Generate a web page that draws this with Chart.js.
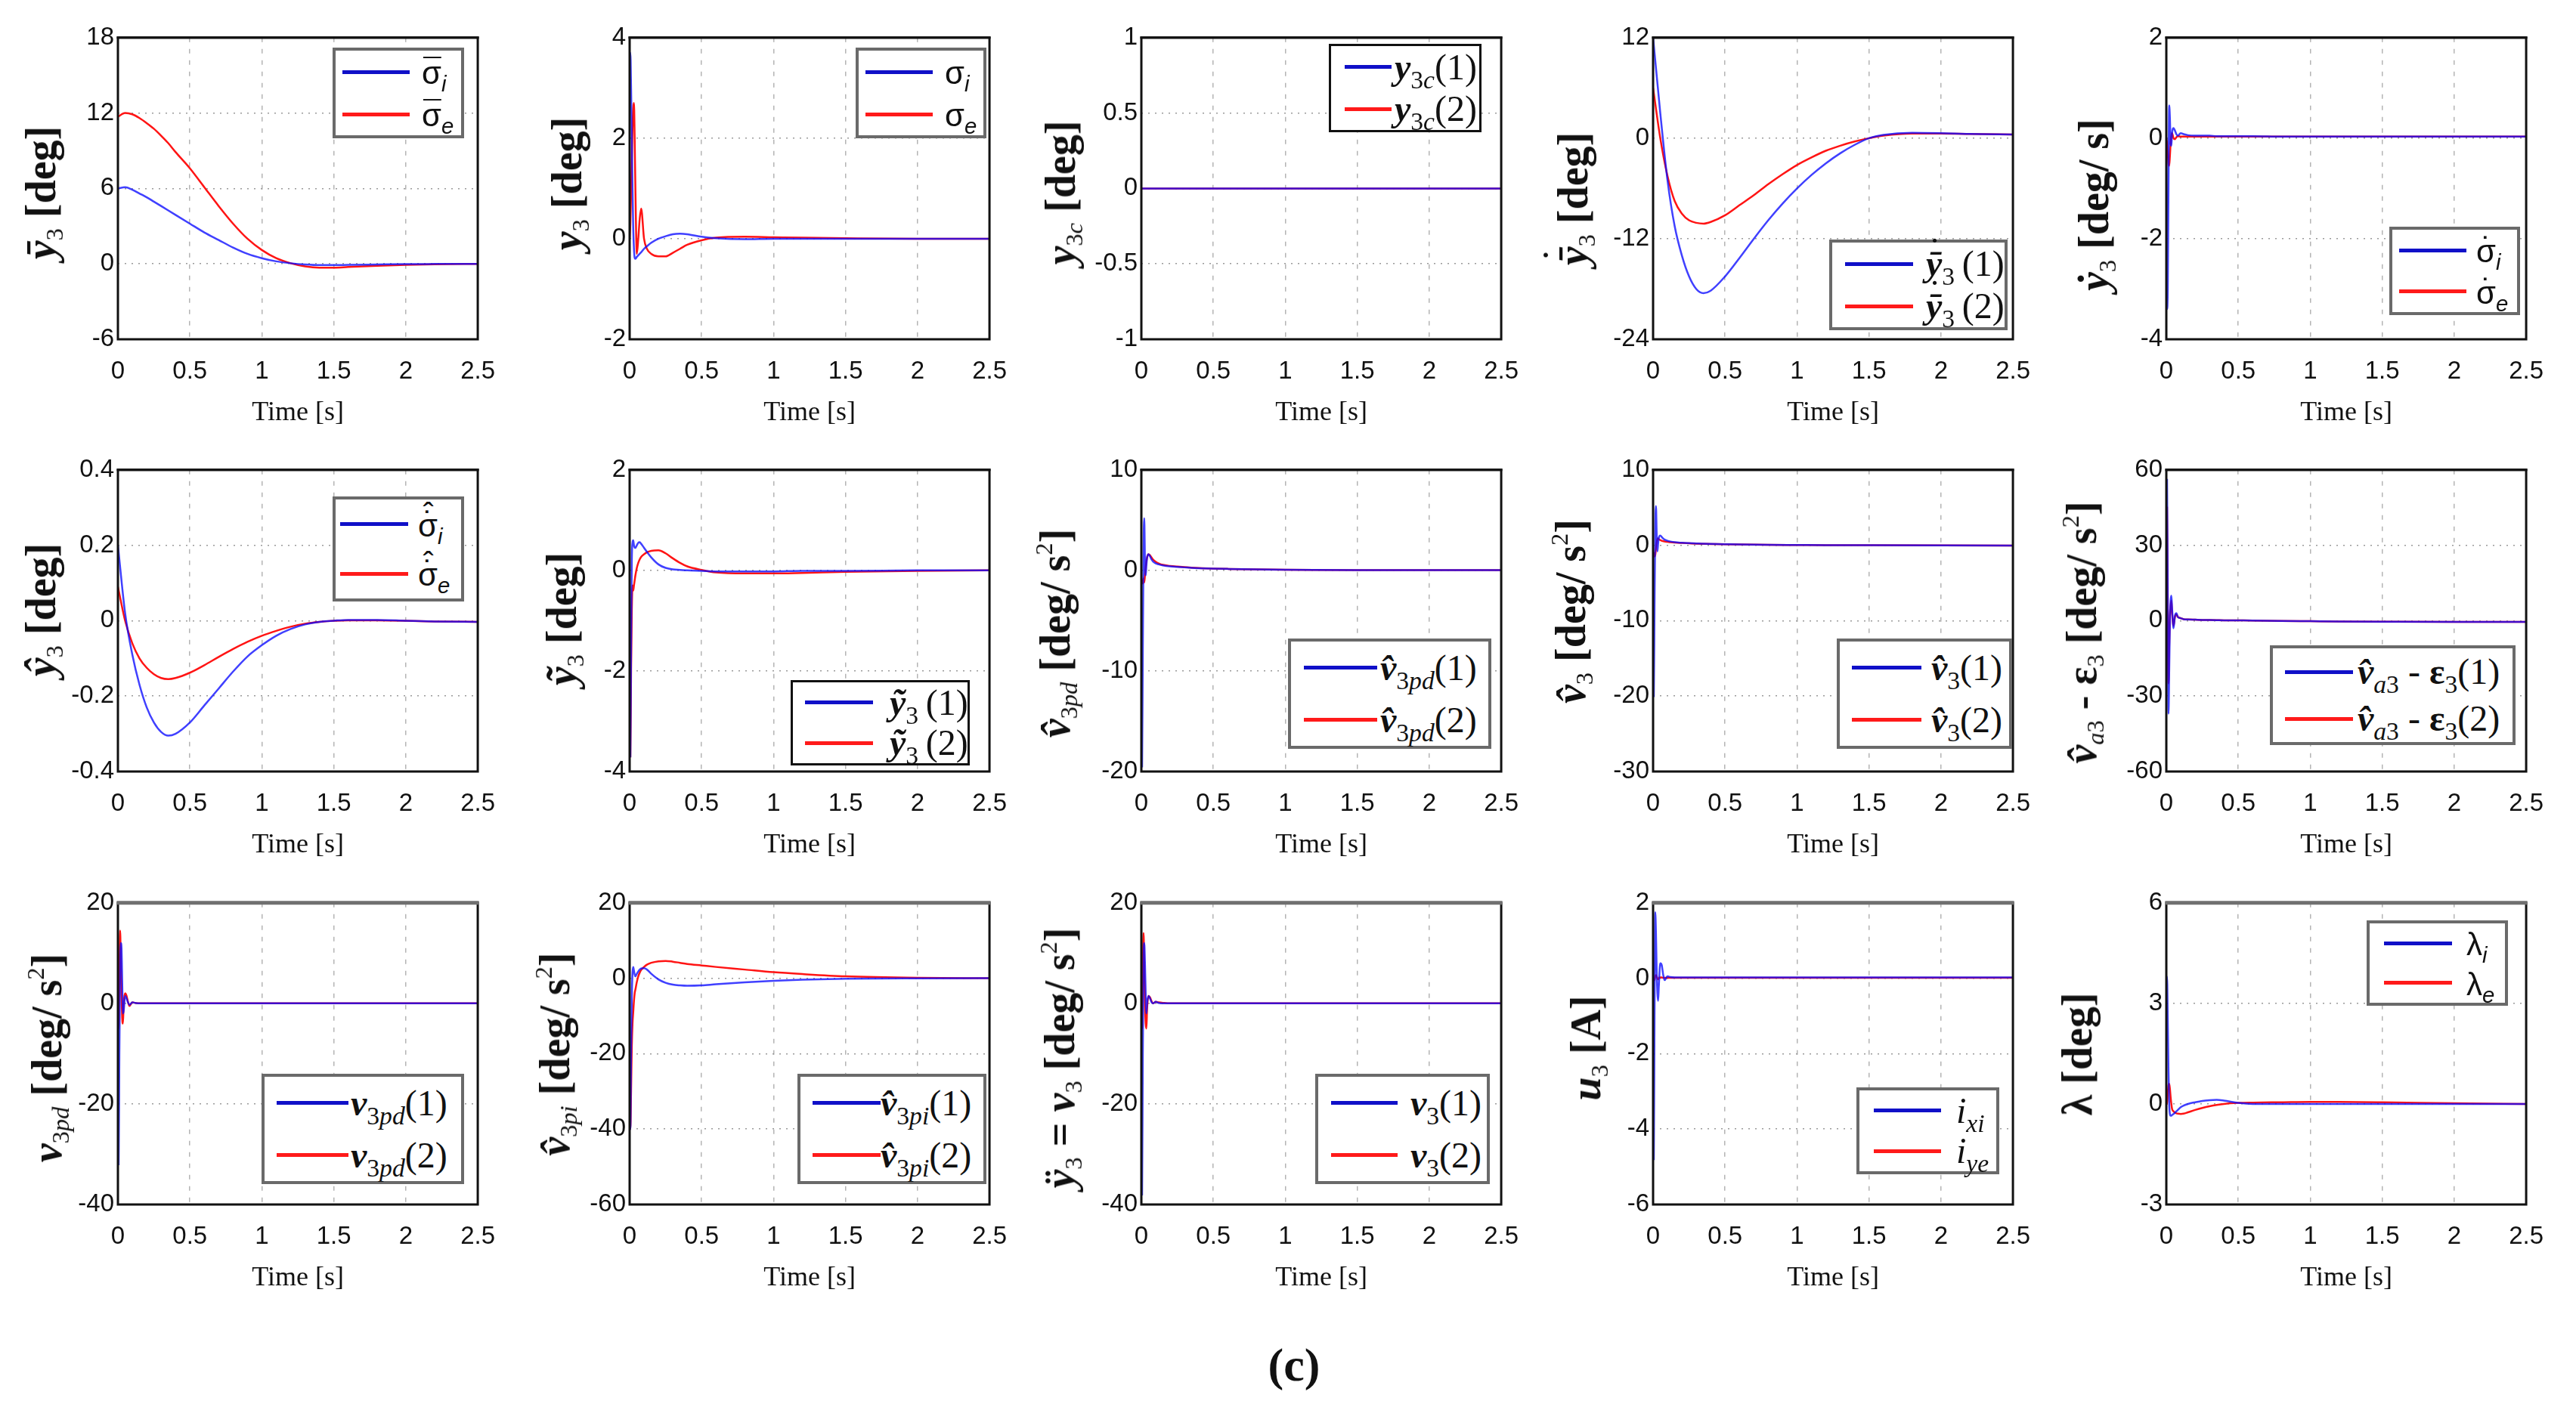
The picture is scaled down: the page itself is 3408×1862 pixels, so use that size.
<!DOCTYPE html>
<html>
<head>
<meta charset="utf-8">
<title>Simulation results (c)</title>
<script src="https://cdn.jsdelivr.net/npm/chart.js@4.4.1/dist/chart.umd.min.js"></script>
<style>
	body { margin: 0; background: #fff; width: 3408px; height: 1862px; position: relative; overflow: hidden; font-family: "Liberation Serif", "DejaVu Serif", serif; color: #111; }
	.panel { position: absolute; }
	.ylab { position: absolute; transform: translate(-50%, -50%) rotate(-90deg); white-space: nowrap; font: bold 56px "Liberation Serif", "DejaVu Serif", serif; line-height: 1; }
	.ylab sub { font-size: 0.58em; font-weight: normal; vertical-align: -0.3em; line-height: 0; }
	.ylab sup { font-size: 0.58em; font-weight: normal; vertical-align: 0.7em; line-height: 0; }
	.legend { position: absolute; background: #fff; box-sizing: border-box; display: flex; flex-direction: column; justify-content: space-around; }
	.legend.g { border: 4px solid #6a6a6a; }
	.legend.k { border: 3px solid #111; }
	.legend-item { display: flex; align-items: center; font: 48px "Liberation Serif", "DejaVu Serif", serif; white-space: nowrap; line-height: 1; }
	.legend-item sub { font-size: 0.7em; vertical-align: -0.35em; line-height: 0; }
	.legend-item .sans { font-family: "Liberation Sans", Arial, sans-serif; font-size: 42px; }
	.swatch { height: 5px; flex: none; }
	.ac { position: relative; display: inline-block; line-height: 1; }
	.mk { position: absolute; left: 0.04em; right: 0; text-align: center; font-style: normal; font-weight: normal; line-height: 1; }
	#caption { position: absolute; left: 1712px; top: 1806px; transform: translate(-50%, -50%); font: bold 62px "Liberation Serif", serif; }
</style>
</head>
<body>
<div id="caption">(c)</div>
<script>
	// time grids [s]
	const tSlow = [0, 0.05, 0.1, 0.15, 0.2, 0.25, 0.3, 0.35, 0.4, 0.5, 0.6, 0.7, 0.8, 0.9, 1.0, 1.1, 1.2, 1.3, 1.4, 1.5, 1.6, 1.8, 2.0, 2.2, 2.5];
	const tFast = [0, 0.005, 0.01, 0.015, 0.02, 0.025, 0.03, 0.035, 0.04, 0.05, 0.06, 0.07, 0.08, 0.1, 0.12, 0.15, 0.2, 0.25, 0.3, 0.35, 0.4, 0.5, 0.6, 0.8, 1.0, 1.2, 1.5, 2.0, 2.5];
	const tFlat = [0, 0.5, 1, 1.5, 2, 2.5];

	// row 1
	const sigmaBarI = [6.0, 6.1, 5.9, 5.6, 5.3, 4.95, 4.6, 4.25, 3.9, 3.2, 2.5, 1.9, 1.3, 0.8, 0.45, 0.2, 0.05, -0.05, -0.1, -0.1, -0.08, -0.05, -0.02, -0.01, 0];
	const sigmaBarE = [11.7, 12.0, 11.9, 11.6, 11.2, 10.75, 10.2, 9.6, 8.9, 7.6, 6.1, 4.6, 3.2, 2.0, 1.1, 0.45, 0.05, -0.2, -0.3, -0.3, -0.25, -0.15, -0.08, -0.03, 0];
	const sigmaI = [3.7, 3.7, 3.0, 2.0, 1.0, 0.2, -0.2, -0.38, -0.4, -0.36, -0.33, -0.3, -0.27, -0.2, -0.15, -0.08, 0.0, 0.05, 0.09, 0.1, 0.09, 0.04, 0.01, -0.01, 0, 0, 0, 0, 0];
	const sigmaE = [0, 0.3, 0.9, 1.6, 2.2, 2.6, 2.7, 2.0, 1.0, -0.3, 0.0, 0.4, 0.6, 0.0, -0.2, -0.3, -0.35, -0.35, -0.28, -0.2, -0.12, -0.03, 0.02, 0.04, 0.03, 0.02, 0.01, 0, 0];
	const y3c1 = [0, 0, 0, 0, 0, 0];
	const y3c2 = [0, 0, 0, 0, 0, 0];
	const yBarDot1 = [12, 3, -5, -10.5, -14, -16.5, -18, -18.5, -18.2, -16.5, -14.3, -12, -9.8, -7.8, -6.0, -4.4, -3.0, -1.8, -0.8, 0, 0.4, 0.65, 0.6, 0.5, 0.45];
	const yBarDot2 = [6, 0, -4.5, -7.5, -9.0, -9.8, -10.1, -10.2, -10.0, -9.2, -8.0, -6.8, -5.5, -4.3, -3.2, -2.3, -1.5, -0.9, -0.4, 0, 0.3, 0.55, 0.55, 0.5, 0.45];
	const sigmaDotI = [0, -3.4, -3.0, -1.0, 0.65, 0.4, -0.1, -0.15, 0.1, 0.2, 0.15, 0.08, 0.05, 0.1, 0.08, 0.06, 0.05, 0.05, 0.05, 0.04, 0.04, 0.04, 0.04, 0.03, 0.03, 0.03, 0.03, 0.03, 0.03];
	const sigmaDotE = [0, -0.1, -0.3, -0.5, -0.55, -0.35, -0.1, 0.05, 0.1, 0.0, -0.02, 0.02, 0.04, 0.03, 0.03, 0.03, 0.03, 0.03, 0.03, 0.03, 0.03, 0.03, 0.03, 0.03, 0.03, 0.03, 0.03, 0.03, 0.03];

	// row 2
	const sigmaHatI = [0.2, 0.02, -0.09, -0.17, -0.23, -0.27, -0.295, -0.305, -0.3, -0.27, -0.225, -0.18, -0.135, -0.095, -0.065, -0.04, -0.022, -0.01, -0.003, 0.0, 0.002, 0.002, 0.0, -0.002, -0.003];
	const sigmaHatE = [0.09, 0.0, -0.06, -0.1, -0.125, -0.142, -0.152, -0.155, -0.152, -0.138, -0.118, -0.096, -0.075, -0.056, -0.04, -0.027, -0.016, -0.008, -0.003, 0.0, 0.001, 0.001, 0.0, -0.002, -0.003];
	const yTilde1 = [-3.7, -3.7, -1.5, 0.2, 0.55, 0.6, 0.5, 0.45, 0.45, 0.5, 0.55, 0.56, 0.53, 0.45, 0.37, 0.26, 0.12, 0.05, 0.02, 0.01, 0.0, -0.01, -0.02, -0.02, -0.02, -0.01, -0.01, 0, 0];
	const yTilde2 = [-3.7, -3.7, -2.0, -0.8, -0.3, -0.4, -0.3, -0.2, -0.1, 0.05, 0.15, 0.22, 0.27, 0.32, 0.36, 0.39, 0.4, 0.34, 0.24, 0.15, 0.08, 0.01, -0.04, -0.06, -0.06, -0.05, -0.03, -0.01, 0];
	const v3pdHat1 = [-19.5, -19.5, -8, 2, 5.2, 1.0, -0.5, 0.5, 1.3, 1.6, 1.4, 1.1, 0.9, 0.7, 0.6, 0.5, 0.4, 0.35, 0.3, 0.25, 0.22, 0.18, 0.15, 0.1, 0.07, 0.05, 0.03, 0.02, 0.02];
	const v3pdHat2 = [-1, -1, -1.3, -0.8, -1.2, -0.5, 0.3, 0.9, 1.3, 1.6, 1.5, 1.3, 1.1, 0.85, 0.7, 0.55, 0.45, 0.38, 0.32, 0.27, 0.23, 0.18, 0.15, 0.1, 0.07, 0.05, 0.03, 0.02, 0.02];
	const v3Hat1 = [-20, -20, -8, 2, 5.2, 1.5, -0.8, 0.2, 1.0, 1.3, 1.1, 0.9, 0.75, 0.6, 0.5, 0.4, 0.33, 0.28, 0.24, 0.2, 0.18, 0.14, 0.1, 0.06, 0.04, 0.02, 0, -0.02, -0.03];
	const v3Hat2 = [-1, -1, -1.5, -1.3, -0.5, 0.3, 0.8, 0.9, 0.8, 0.7, 0.6, 0.55, 0.5, 0.45, 0.4, 0.35, 0.3, 0.26, 0.22, 0.19, 0.17, 0.13, 0.1, 0.06, 0.04, 0.02, 0, -0.02, -0.03];
	const va3Eps1 = [56, 56, 10, -37, -20, 0, 8, 10, 5, -3, 2, 3, 1.5, 1, 0.6, 0.5, 0.4, 0.3, 0.25, 0.2, 0.15, 0.1, 0.05, -0.1, -0.2, -0.3, -0.4, -0.5, -0.5];
	const va3Eps2 = [45, 45, 5, -25, -10, 2, 6, 8, 3, -2, 1.5, 2.5, 1.5, 1, 0.6, 0.5, 0.4, 0.3, 0.25, 0.2, 0.15, 0.1, 0.05, -0.1, -0.2, -0.3, -0.4, -0.5, -0.5];

	// row 3
	const v3pd1 = [-32, -32, -10, 6, 12, 11, 4, -2, -1.5, 1.5, 1.0, 0.2, -0.3, 0.2, 0.1, 0, 0, 0, 0, 0, 0, 0, 0, 0, 0, 0, 0, 0, 0];
	const v3pd2 = [-5, -5, 5, 14.5, 9, 2, -3, -4, 0, 2, 1.5, 0.3, -0.5, 0.2, 0.1, 0, 0, 0, 0, 0, 0, 0, 0, 0, 0, 0, 0, 0, 0];
	const v3piHat1 = [-40, -40, -20, -5, 1.5, 3, 2, 1, 0.5, 1.2, 1.8, 2.3, 2.6, 2.7, 2.3, 1.2, -0.3, -1.2, -1.7, -1.9, -2.0, -1.9, -1.6, -1.1, -0.7, -0.4, -0.15, -0.03, 0];
	const v3piHat2 = [-40, -40, -30, -18, -12, -9, -6, -4, -3, -1, 0.5, 1.5, 2.2, 3.0, 3.6, 4.1, 4.5, 4.6, 4.4, 4.1, 3.8, 3.4, 3.0, 2.3, 1.6, 1.1, 0.5, 0.1, 0];
	const v3n1 = [-38, -38, -10, 8, 12, 8, 2, -2, 0, 1.5, 1, 0.3, 0, 0.3, 0.1, 0, 0, 0, 0, 0, 0, 0, 0, 0, 0, 0, 0, 0, 0];
	const v3n2 = [-5, -5, 6, 14, 8, 0, -4, -5, -1, 1.5, 1.2, 0.5, 0, 0.3, 0.2, 0.1, 0, 0, 0, 0, 0, 0, 0, 0, 0, 0, 0, 0, 0];
	const ixi = [-4.8, -4.8, -1, 1.75, 1.2, 0.2, -0.4, -0.6, -0.2, 0.4, 0.35, 0.1, -0.05, 0.05, 0.03, 0.02, 0.02, 0.02, 0.02, 0.02, 0.02, 0.02, 0.02, 0.02, 0.02, 0.02, 0.02, 0.02, 0.02];
	const iye = [0, 0, -0.05, 0.05, 0.08, 0.05, 0, -0.03, 0, 0.02, 0.02, 0.01, 0.01, 0.01, 0.01, 0.01, 0.01, 0.01, 0.01, 0.01, 0.01, 0.01, 0.01, 0.01, 0.01, 0.01, 0.01, 0.01, 0.01];
	const lambdaI = [3.8, 3.8, 2.5, 1.0, 0.0, -0.3, -0.35, -0.35, -0.33, -0.3, -0.26, -0.22, -0.18, -0.1, -0.05, 0.0, 0.05, 0.09, 0.11, 0.12, 0.1, 0.03, 0, 0, 0, 0, 0, 0, 0];
	const lambdaE = [0, 0, 0.3, 0.55, 0.6, 0.45, 0.2, 0.0, -0.15, -0.22, -0.26, -0.28, -0.29, -0.3, -0.29, -0.25, -0.18, -0.12, -0.07, -0.03, 0, 0.03, 0.04, 0.05, 0.06, 0.06, 0.05, 0.02, 0];

	// axes
	const xMin = 0, xMax = 2.5, xStep = 0.5;
	const yMins = [-6, -2, -1, -24, -4, -0.4, -4, -20, -30, -60, -40, -60, -40, -6, -3];
	const yMaxs = [18, 4, 1, 12, 2, 0.4, 2, 10, 10, 60, 20, 20, 20, 2, 6];
	const ySteps = [6, 2, 0.5, 12, 2, 0.2, 2, 10, 10, 30, 20, 20, 20, 2, 3];

	// letter with stacked accents; lift skips levels already taken by the base glyph
	function acc(base, marks, lift = 0) {
		const mk = marks.map((m, k) => `<span class="mk" style="top:${-0.1 - (k + lift) * 0.26}em">${m}</span>`).join("");
		return `<span class="ac">${base}${mk}</span>`;
	}
	const sans = html => `<span class="sans">${html}</span>`;

	const sBar = acc("σ", ["¯"]);
	const sDot = acc("σ", ["˙"]);
	const sDotHat = acc("σ", ["˙", "ˆ"]);
	const yBarDot = acc("<i>ȳ</i>", ["˙"], 1);

	const panels = [
		{ t: tSlow, s1: sigmaBarI, s2: sigmaBarE, ylab: `<i>ȳ</i><sub>3</sub> [deg]`, leg: [sans(`${sBar}<sub><i>i</i></sub>`), sans(`${sBar}<sub><i>e</i></sub>`)] },
		{ t: tFast, s1: sigmaI, s2: sigmaE, ylab: `<i>y</i><sub>3</sub> [deg]`, leg: [sans(`σ<sub><i>i</i></sub>`), sans(`σ<sub><i>e</i></sub>`)] },
		{ t: tFlat, s1: y3c1, s2: y3c2, ylab: `<i>y</i><sub>3<i>c</i></sub> [deg]`, leg: [`<b><i>y</i></b><sub>3<i>c</i></sub>(1)`, `<b><i>y</i></b><sub>3<i>c</i></sub>(2)`] },
		{ t: tSlow, s1: yBarDot1, s2: yBarDot2, ylab: `${yBarDot}<sub>3</sub> [deg]`, leg: [`<b>${yBarDot}</b><sub>3</sub>\u2009(1)`, `<b>${yBarDot}</b><sub>3</sub>\u2009(2)`] },
		{ t: tFast, s1: sigmaDotI, s2: sigmaDotE, ylab: `<i>ẏ</i><sub>3</sub> [deg/ s]`, leg: [sans(`${sDot}<sub><i>i</i></sub>`), sans(`${sDot}<sub><i>e</i></sub>`)] },
		{ t: tSlow, s1: sigmaHatI, s2: sigmaHatE, ylab: `<i>ŷ</i><sub>3</sub> [deg]`, leg: [sans(`${sDotHat}<sub><i>i</i></sub>`), sans(`${sDotHat}<sub><i>e</i></sub>`)] },
		{ t: tFast, s1: yTilde1, s2: yTilde2, ylab: `<i>ỹ</i><sub>3</sub> [deg]`, leg: [`<b><i>ỹ</i></b><sub>3</sub>\u2009(1)`, `<b><i>ỹ</i></b><sub>3</sub>\u2009(2)`] },
		{ t: tFast, s1: v3pdHat1, s2: v3pdHat2, ylab: `<i>v\u0302</i><sub>3<i>pd</i></sub> [deg/ s<sup>2</sup>]`, leg: [`<b><i>v\u0302</i></b><sub>3<i>pd</i></sub>(1)`, `<b><i>v\u0302</i></b><sub>3<i>pd</i></sub>(2)`] },
		{ t: tFast, s1: v3Hat1, s2: v3Hat2, ylab: `<i>v\u0302</i><sub>3</sub> [deg/ s<sup>2</sup>]`, leg: [`<b><i>v\u0302</i></b><sub>3</sub>(1)`, `<b><i>v\u0302</i></b><sub>3</sub>(2)`] },
		{ t: tFast, s1: va3Eps1, s2: va3Eps2, ylab: `<i>v\u0302</i><sub><i>a</i>3</sub> - ε<sub>3</sub> [deg/ s<sup>2</sup>]`, leg: [`<b><i>v\u0302</i></b><sub><i>a</i>3</sub> - <b>ε</b><sub>3</sub>(1)`, `<b><i>v\u0302</i></b><sub><i>a</i>3</sub> - <b>ε</b><sub>3</sub>(2)`] },
		{ t: tFast, s1: v3pd1, s2: v3pd2, ylab: `<i>v</i><sub>3<i>pd</i></sub> [deg/ s<sup>2</sup>]`, leg: [`<b><i>v</i></b><sub>3<i>pd</i></sub>(1)`, `<b><i>v</i></b><sub>3<i>pd</i></sub>(2)`] },
		{ t: tFast, s1: v3piHat1, s2: v3piHat2, ylab: `<i>v\u0302</i><sub>3<i>pi</i></sub> [deg/ s<sup>2</sup>]`, leg: [`<b><i>v\u0302</i></b><sub>3<i>pi</i></sub>(1)`, `<b><i>v\u0302</i></b><sub>3<i>pi</i></sub>(2)`] },
		{ t: tFast, s1: v3n1, s2: v3n2, ylab: `<i>ÿ</i><sub>3</sub> = <i>v</i><sub>3</sub> [deg/ s<sup>2</sup>]`, leg: [`<b><i>v</i></b><sub>3</sub>(1)`, `<b><i>v</i></b><sub>3</sub>(2)`] },
		{ t: tFast, s1: ixi, s2: iye, ylab: `<i>u</i><sub>3</sub> [A]`, leg: [`<i>i</i><sub><i>xi</i></sub>`, `<i>i</i><sub><i>ye</i></sub>`] },
		{ t: tFast, s1: lambdaI, s2: lambdaE, ylab: `λ [deg]`, leg: [sans(`λ<sub><i>i</i></sub>`), sans(`λ<sub><i>e</i></sub>`)] }
	];

	// layout (page pixels)
	const plotLefts = [156, 833, 1510, 2187, 2866];
	const plotTops = [49, 621, 1194];
	const plotW = 482, plotH = 400;
	const axisW = 110, axisH = 119, padTop = 24, padRight = 40;
	const yLabelPos = [
		[54, 255], [750, 243], [1403, 255], [2081, 263], [2770, 271],
		[54, 807], [743, 819], [1396, 838], [2078, 809], [2754, 837],
		[62, 1400], [734, 1395], [1402, 1400], [2098, 1387], [2748, 1395]
	];
	// x, y, w, h, swatch left pad, swatch length, gap, edge style
	const legendBoxes = [
		[440, 63, 174, 120, 9, 89, 16, "g"], [1132, 63, 173, 120, 9, 89, 16, "g"], [1758, 58, 202, 117, 18, 62, 4, "k"], [2420, 317, 236, 120, 17, 90, 17, "g"], [3161, 300, 173, 117, 9, 89, 13, "g"],
		[440, 657, 174, 139, 6, 90, 13, "g"], [1046, 900, 237, 113, 16, 90, 22, "k"], [1704, 845, 269, 146, 17, 97, 4, "g"], [2430, 845, 232, 146, 16, 92, 13, "g"], [3003, 854, 325, 132, 16, 90, 6, "g"],
		[346, 1421, 268, 146, 16, 95, 3, "g"], [1055, 1421, 250, 146, 16, 90, 0, "g"], [1740, 1421, 231, 146, 17, 88, 17, "g"], [2456, 1439, 189, 115, 19, 89, 20, "g"], [3131, 1218, 187, 113, 19, 90, 19, "g"]
	];
	// top edge of the axes box: black on rows 1-2, grey on row 3
	const frameTop = [["#111", 3], ["#111", 3], ["#707070", 5]];

	const BLUE = "rgba(10, 10, 255, 0.78)";
	const RED = "rgb(255, 20, 20)";
	const SWATCH = ["#1010c8", "#ff1a1a"];

	function makeFrame(topColor, topWidth) {
		return {
			id: "frame",
			afterDraw(chart) {
				const { ctx, chartArea: a } = chart;
				ctx.save();
				ctx.strokeStyle = "#111";
				ctx.lineWidth = 3;
				ctx.strokeRect(a.left, a.top, a.right - a.left, a.bottom - a.top);
				ctx.strokeStyle = topColor;
				ctx.lineWidth = topWidth;
				ctx.beginPath();
				ctx.moveTo(a.left - 1.5, a.top);
				ctx.lineTo(a.right + 1.5, a.top);
				ctx.stroke();
				ctx.restore();
			}
		};
	}

	const tickLabel = v => String(Math.round(v * 100) / 100);

	panels.forEach((p, i) => {
		const col = i % 5;
		const row = Math.floor(i / 5);
		const left = plotLefts[col] - axisW;
		const top = plotTops[row] - padTop;
		const w = axisW + plotW + padRight;
		const h = padTop + plotH + axisH;

		const holder = document.createElement("div");
		holder.className = "panel";
		holder.style.left = left + "px";
		holder.style.top = top + "px";
		const canvas = document.createElement("canvas");
		canvas.width = w;
		canvas.height = h;
		canvas.style.width = w + "px";
		canvas.style.height = h + "px";
		holder.appendChild(canvas);
		document.body.appendChild(holder);

		const chart = new Chart(canvas, {
			type: "line",
			data: {
				datasets: [
					{
						label: "1",
						data: p.t.map((x, k) => ({ x, y: p.s1[k] })),
						borderColor: BLUE,
						borderWidth: 2.5,
						pointRadius: 0,
						cubicInterpolationMode: "monotone"
					},
					{
						label: "2",
						data: p.t.map((x, k) => ({ x, y: p.s2[k] })),
						borderColor: RED,
						borderWidth: 2.5,
						pointRadius: 0,
						cubicInterpolationMode: "monotone"
					}
				]
			},
			options: {
				responsive: false,
				animation: false,
				events: [],
				layout: { padding: { top: padTop, right: padRight, left: 0, bottom: 0 } },
				plugins: { legend: { display: false }, tooltip: { enabled: false } },
				scales: {
					x: {
						type: "linear",
						min: xMin,
						max: xMax,
						ticks: { stepSize: xStep, callback: tickLabel, color: "#111", padding: 23, maxRotation: 0, autoSkip: false, font: { family: "Liberation Sans", size: 33 } },
						grid: { color: "#b4b4b4", lineWidth: 1.5, drawTicks: false },
						border: { display: false, dash: [6, 9] },
						title: { display: true, text: "Time [s]", color: "#111", padding: 0, font: { family: "Liberation Serif", size: 36 } },
						afterFit: s => { s.height = axisH; }
					},
					y: {
						type: "linear",
						min: yMins[i],
						max: yMaxs[i],
						ticks: { stepSize: ySteps[i], callback: tickLabel, color: "#111", padding: 5, font: { family: "Liberation Sans", size: 33 } },
						grid: { color: "#9a9a9a", lineWidth: 1.5, drawTicks: false },
						border: { display: false, dash: [2, 7] },
						afterFit: s => { s.width = axisW; }
					}
				}
			},
			plugins: [makeFrame(frameTop[row][0], frameTop[row][1])]
		});

		// y axis title
		const ylab = document.createElement("div");
		ylab.className = "ylab";
		ylab.style.left = yLabelPos[i][0] + "px";
		ylab.style.top = yLabelPos[i][1] + "px";
		ylab.innerHTML = p.ylab;
		document.body.appendChild(ylab);

		// legend box, colours taken from the chart datasets
		const [lx, ly, lw, lh, pad, len, gap, edge] = legendBoxes[i];
		const legend = document.createElement("div");
		legend.className = "legend " + edge;
		legend.style.left = lx + "px";
		legend.style.top = ly + "px";
		legend.style.width = lw + "px";
		legend.style.height = lh + "px";
		legend.innerHTML = chart.data.datasets.map((ds, k) => `
			<div class="legend-item" style="padding-left:${pad}px">
				<span class="swatch" style="width:${len}px; background:${SWATCH[k]}; margin-right:${gap}px"></span>
				<span>${p.leg[k]}</span>
			</div>
		`).join("");
		document.body.appendChild(legend);
	});
</script>
</body>
</html>
